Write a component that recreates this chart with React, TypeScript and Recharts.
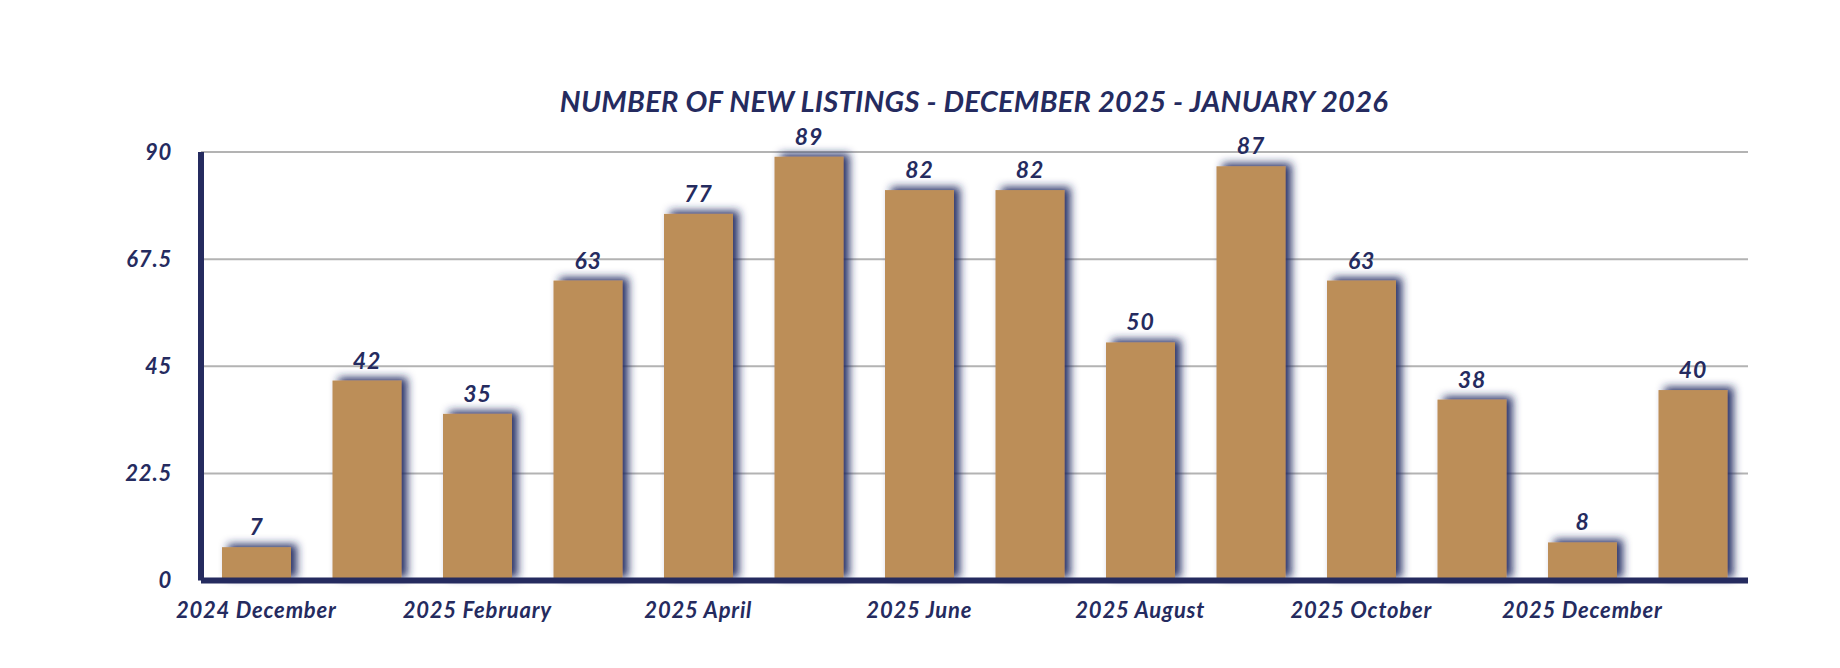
import { BarChart, Bar, XAxis, YAxis, CartesianGrid, LabelList } from 'recharts'

const months = [
  '2024 December',
  '2025 January',
  '2025 February',
  '2025 March',
  '2025 April',
  '2025 May',
  '2025 June',
  '2025 July',
  '2025 August',
  '2025 September',
  '2025 October',
  '2025 November',
  '2025 December',
  '2026 January',
]
const newListings = [7, 42, 35, 63, 77, 89, 82, 82, 50, 87, 63, 38, 8, 40]
const yTicks = [0, 22.5, 45, 67.5, 90]
const chartTitle = 'NUMBER OF NEW LISTINGS - DECEMBER 2025 - JANUARY 2026'

const data = months.map((month, i) => ({ month, value: newListings[i] }))

const NAVY = '#252b5f'
const GOLD = '#bc8e59'
const FONT = 'Lato, "Open Sans", sans-serif'

const textStyle = {
  fontFamily: FONT,
  fontStyle: 'italic',
  fontWeight: 700,
  fontSize: 22,
  letterSpacing: 0.8,
  fill: NAVY,
}

// bar with the blurred navy shadow used in the original
const ShadowBar = (props: any) => {
  const { x, y, width, height } = props
  if (!height || height <= 0) return null
  return <rect x={x} y={y} width={width} height={height} fill={GOLD} filter="url(#barShadow)" />
}

export default function App() {
  return (
    <div style={{ position: 'absolute', left: 0, top: 0, width: 1840, height: 668, background: '#fff' }}>
      <svg width={0} height={0} style={{ position: 'absolute' }}>
        <defs>
          <filter id="barShadow" filterUnits="userSpaceOnUse" x={0} y={0} width={1840} height={668}>
            <feDropShadow dx={6} dy={-3} stdDeviation={4.5} floodColor="#1f2560" floodOpacity={0.95} />
          </filter>
        </defs>
      </svg>
      <BarChart
        width={1840}
        height={668}
        data={data}
        margin={{ top: 152, right: 92, bottom: 27.5, left: 0 }}
        barSize={69}
      >
        <CartesianGrid vertical={false} stroke="#b3b3b3" strokeWidth={2} />
        <XAxis
          dataKey="month"
          interval={1}
          height={60}
          tickLine={false}
          tickSize={0}
          tickMargin={22}
          axisLine={{ stroke: NAVY, strokeWidth: 6 }}
          tick={textStyle}
        />
        <YAxis
          width={201}
          domain={[0, 90]}
          ticks={yTicks}
          tickLine={false}
          tickSize={0}
          tickMargin={29}
          axisLine={{ stroke: NAVY, strokeWidth: 6 }}
          tick={textStyle}
        />
        <Bar dataKey="value" isAnimationActive={false} shape={ShadowBar}>
          <LabelList dataKey="value" position="top" offset={12} style={{ ...textStyle, fontSize: 23 }} />
        </Bar>
      </BarChart>
      <svg width={1840} height={668} style={{ position: 'absolute', left: 0, top: 0, pointerEvents: 'none' }}>
        <text x={974} y={112} textAnchor="middle" style={{ ...textStyle, fontSize: 29, letterSpacing: 0.3 }}>
          {chartTitle}
        </text>
      </svg>
    </div>
  )
}
